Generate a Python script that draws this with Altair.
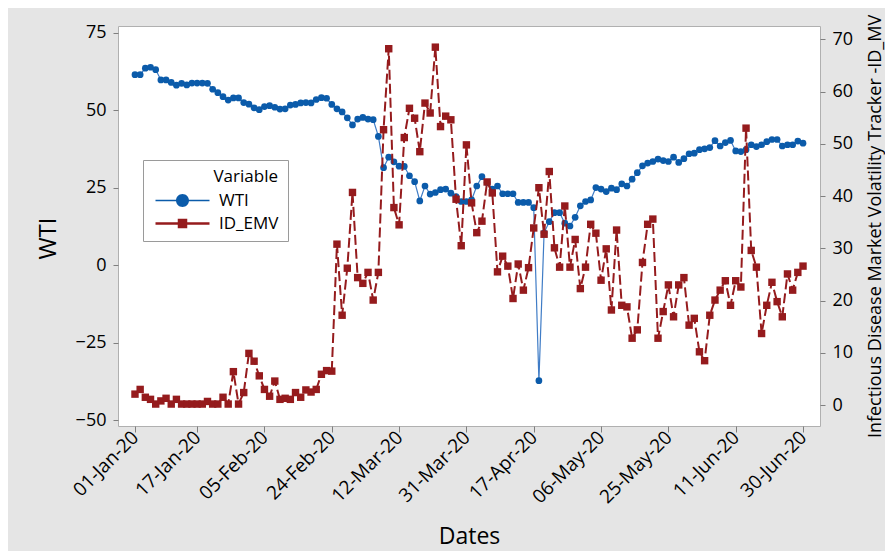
import altair as alt
import pandas as pd

# ---------------- data ----------------
tick_labels = ["01-Jan-20", "17-Jan-20", "05-Feb-20", "24-Feb-20", "12-Mar-20",
               "31-Mar-20", "17-Apr-20", "06-May-20", "25-May-20", "11-Jun-20",
               "30-Jun-20"]

# one observation per weekday, 01-Jan-20 .. 30-Jun-20
dates = pd.bdate_range("2020-01-01", "2020-06-30").strftime("%d-%b-%y").tolist()

wti = [
    61.5, 61.5, 63.6, 63.9, 63.1, 59.8, 59.8, 59.0, 58.1, 58.7,
    58.2, 58.8, 58.8, 58.8, 58.7, 56.8, 55.7, 54.4, 53.3, 54.0,
    54.0, 52.5, 52.0, 50.8, 50.2, 51.2, 51.5, 51.0, 50.4, 50.5,
    51.7, 51.9, 52.4, 52.5, 52.4, 53.5, 54.1, 53.9, 51.9, 50.5,
    49.5, 47.6, 45.3, 47.2, 47.7, 47.2, 47.0, 41.6, 31.5, 34.9,
    33.4, 32.0, 31.9, 28.9, 27.0, 20.8, 25.6, 23.0, 23.5, 24.4,
    24.6, 23.3, 22.2, 20.6, 20.6, 21.1, 25.6, 28.6, 26.7, 24.6,
    25.6, 23.1, 23.1, 23.1, 20.3, 20.3, 20.3, 18.6, -37.2, 10.5,
    14.1, 17.0, 17.0, 13.6, 12.7, 15.5, 19.2, 20.6, 21.1, 25.1,
    24.6, 23.8, 24.9, 24.4, 26.3, 25.6, 27.8, 29.9, 32.1, 33.0,
    33.5, 34.3, 33.8, 33.5, 34.9, 33.2, 34.4, 36.0, 36.2, 37.3,
    37.6, 38.0, 40.2, 38.5, 39.6, 40.3, 36.9, 36.7, 37.3, 38.9,
    38.3, 38.9, 39.9, 40.6, 40.6, 38.5, 38.9, 38.9, 40.1, 39.4,
]

id_emv = [
    2.1, 3.0, 1.5, 1.1, 0.2, 0.8, 1.3, 0.2, 1.1, 0.2,
    0.2, 0.2, 0.2, 0.2, 0.7, 0.2, 0.2, 1.5, 0.2, 6.4,
    0.2, 2.4, 9.9, 8.4, 5.6, 3.0, 1.7, 4.6, 1.1, 1.3,
    1.1, 2.4, 1.5, 2.9, 2.5, 3.0, 5.9, 6.6, 6.5, 30.8,
    17.2, 26.2, 40.7, 24.4, 23.3, 25.4, 20.1, 25.4, 52.7, 68.2,
    37.8, 34.5, 51.2, 56.8, 54.9, 48.5, 57.8, 55.9, 68.5, 53.3,
    55.3, 54.6, 39.4, 30.5, 49.8, 38.7, 33.0, 35.2, 42.7, 40.6,
    25.5, 28.5, 26.6, 20.4, 27.0, 22.0, 26.3, 33.9, 41.6, 32.7,
    44.7, 30.1, 26.4, 38.1, 26.4, 31.7, 22.3, 26.4, 34.6, 32.9,
    23.9, 29.9, 18.2, 33.5, 19.1, 18.8, 12.8, 14.4, 27.3, 34.6,
    35.6, 12.8, 17.9, 23.0, 16.9, 23.0, 24.4, 15.3, 16.6, 10.2,
    8.5, 17.2, 20.1, 22.0, 23.8, 19.1, 23.8, 22.6, 53.0, 29.6,
    26.4, 13.7, 19.1, 23.5, 19.8, 16.9, 25.1, 22.0, 25.4, 26.6,
]

variables = ["WTI", "ID_EMV"]
wti_ticks = [-50, -25, 0, 25, 50, 75]
emv_ticks = [0, 10, 20, 30, 40, 50, 60, 70]

# ---------------- style ----------------
FONT = "Open Sans"
BG = "#E5E5E5"
WTI_PT = "#0B5BAA"
WTI_LN = "#3F7CC6"
EMV_C = "#951B1D"
TICK_C = "#7F7F7F"

WTI_PATH = "M-5.4,-0.15H5.4V0.15H-5.4Z M1.3,0A1.3,1.3,0,1,1,-1.3,0A1.3,1.3,0,1,1,1.3,0Z"
EMV_PATH = "M-5.4,-0.25H5.4V0.25H-5.4Z M-0.95,-0.95H0.95V0.95H-0.95Z"

n = len(dates)
df = pd.DataFrame({"Obs": list(range(1, n + 1)), "Date": dates,
                   "WTI": wti, "ID_EMV": id_emv})

tick_pos = [dates.index(t) + 1 for t in tick_labels]
label_expr = ("[" + ",".join("'" + t + "'" for t in tick_labels) + "][indexof(["
              + ",".join(str(p) for p in tick_pos) + "], datum.value)]")
minus_expr = "replace(datum.label, '-', '\u2212')"

pad_obs = 3.28
x_enc = alt.X(
    "Obs:Q",
    scale=alt.Scale(domain=[1 - pad_obs, n + pad_obs], nice=False, zero=False),
    axis=alt.Axis(values=tick_pos, labelExpr=label_expr, labelAngle=-45,
                  labelOverlap=False, labelFlush=False, labelBound=False,
                  title="Dates", titleFontSize=23, titleFontWeight="normal",
                  labelFontSize=19, tickSize=6, labelPadding=2,
                  labelAlign="right", labelBaseline="middle",
                  titleY=117, titleBaseline="alphabetic",
                  domain=False, grid=False),
)

y_wti = alt.Y(
    "WTI:Q",
    scale=alt.Scale(domain=[-51.8, 77.2], nice=False, zero=False),
    axis=alt.Axis(values=wti_ticks, title="WTI", titleFontSize=24,
                  titleFontWeight="normal", labelFontSize=18, tickSize=5,
                  labelPadding=7, titlePadding=15, titleY=212,
                  labelOverlap=False,
                  labelExpr=minus_expr, domain=False, grid=False),
)

y_emv = alt.Y(
    "ID_EMV:Q",
    scale=alt.Scale(domain=[-4.0, 72.55], nice=False, zero=False),
    axis=alt.Axis(orient="right", values=emv_ticks,
                  title="Infectious Disease Market Volatility Tracker -ID_MV",
                  titleFontSize=18, titleFontWeight="normal", titleAngle=270,
                  titleBaseline="top", titleAlign="center", titleX=46,
                  labelFontSize=18, tickSize=5, labelPadding=7,
                  labelOverlap=False,
                  domain=False, grid=False),
)

base = alt.Chart(df)

wti_layer = alt.layer(
    base.mark_line(color=WTI_LN, strokeWidth=1.2).encode(x=x_enc, y=y_wti),
    base.mark_point(shape="circle", filled=True, size=45, opacity=1,
                    color=WTI_PT).encode(x=x_enc, y=y_wti),
)

emv_layer = alt.layer(
    base.mark_line(color=EMV_C, strokeWidth=2, strokeDash=[10, 4]).encode(x=x_enc, y=y_emv),
    base.mark_point(shape="square", filled=True, size=55, opacity=1,
                    color=EMV_C).encode(x=x_enc, y=y_emv),
)

legend_cfg = dict(
    title="Variable", orient="none", legendX=25, legendY=134,
    fillColor="white", strokeColor="#9A9A9A", padding=9,
    titleFont=FONT, titleFontSize=17, titleFontWeight="normal", titleColor="black",
    labelFont=FONT, labelFontSize=17, labelColor="black",
    symbolSize=100, symbolOffset=22, labelOffset=28, symbolStrokeWidth=0,
    rowPadding=5, titlePadding=6, titleAnchor="end",
)

legend_layer = (
    alt.Chart(pd.DataFrame({"Variable": variables}))
    .transform_filter("false")
    .mark_point(filled=True, opacity=1, size=100)
    .encode(
        color=alt.Color("Variable:N",
                        scale=alt.Scale(domain=variables, range=[WTI_PT, EMV_C]),
                        legend=alt.Legend(**legend_cfg)),
        shape=alt.Shape("Variable:N",
                        scale=alt.Scale(domain=variables, range=[WTI_PATH, EMV_PATH]),
                        legend=alt.Legend(**legend_cfg)),
    )
)

chart = (
    alt.layer(wti_layer, emv_layer, legend_layer)
    .resolve_scale(y="independent")
    .properties(
        width=702, height=400,
        padding={"left": 110, "top": 18, "right": 65, "bottom": 125},
        autosize=alt.AutoSizeParams(type="none"),
        background=BG,
        view=alt.ViewBackground(fill="white", stroke="#B0B0B0", strokeWidth=1),
    )
    .configure_axis(labelFont=FONT, titleFont=FONT, labelColor="black",
                    titleColor="black", tickColor=TICK_C, tickWidth=1)
)

chart.save("out.html", embed_options={"renderer": "svg", "actions": False})
